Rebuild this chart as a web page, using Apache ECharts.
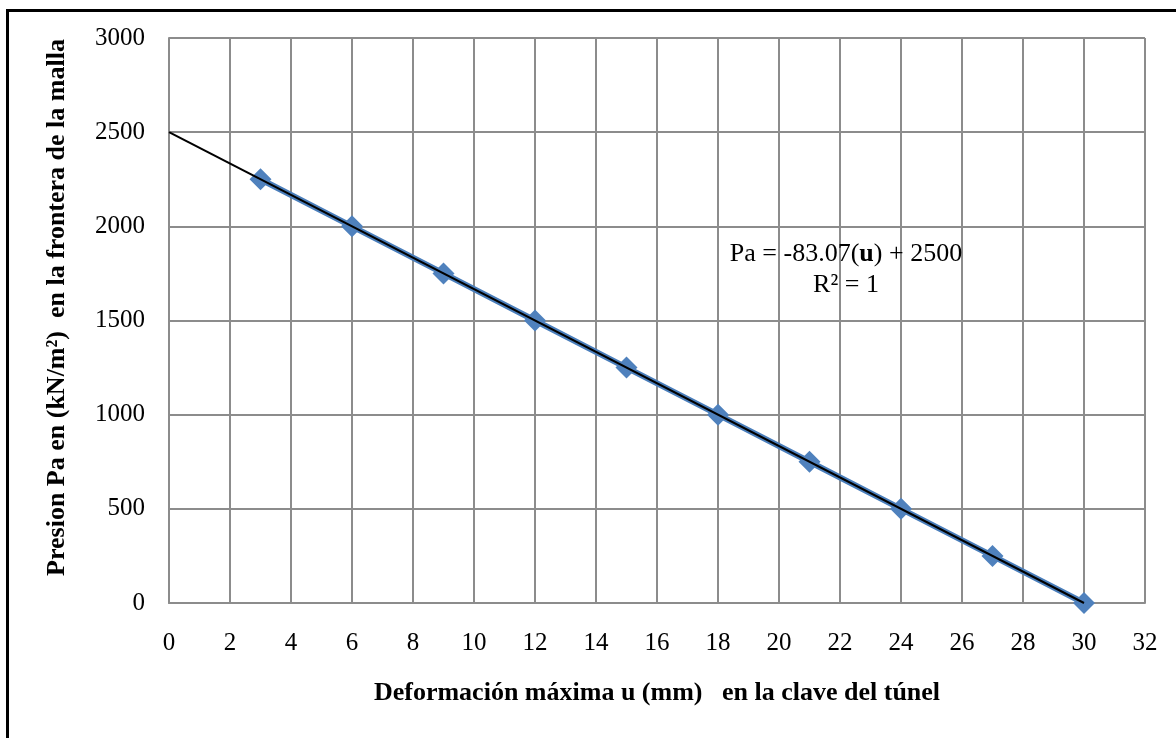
<!DOCTYPE html>
<html>
<head>
<meta charset="utf-8">
<script src="https://cdn.jsdelivr.net/npm/echarts@6/dist/echarts.min.js"></script>
<style>
html,body{margin:0;padding:0;background:#fff;}
#chart{width:1176px;height:738px;}
</style>
</head>
<body>
<div id="chart"></div>
<script>
// Data
var deformacion = [3, 6, 9, 12, 15, 18, 21, 24, 27, 30];
var presion = [2250, 2000, 1750, 1500, 1250, 1000, 750, 500, 250, 0];
var trendX = [0, 30];
var trendY = [2500, 0];
var xTitle = 'Deformación máxima u (mm)   en la clave del túnel';
var yTitle = 'Presion Pa en (kN/m²)  en la frontera de la malla';

var FONT = '"Liberation Serif", "Times New Roman", serif';
var chart = echarts.init(document.getElementById('chart'), null, {renderer: 'canvas'});

var gridColor = '#8c8c8c';
var option = {
  backgroundColor: '#ffffff',
  animation: false,
  grid: {left: 169, top: 38, right: 31, bottom: 135, containLabel: false},
  xAxis: {
    type: 'value', min: 0, max: 32, interval: 2,
    name: xTitle, nameLocation: 'middle', nameGap: 77,
    nameTextStyle: {fontFamily: FONT, fontSize: 26, fontWeight: 'bold', color: '#000'},
    axisLine: {show: true, lineStyle: {color: gridColor, width: 2}},
    axisTick: {show: false},
    axisLabel: {fontFamily: FONT, fontSize: 25, color: '#000', margin: 28,
      formatter: function (v) { return String(v); }},
    splitLine: {show: true, lineStyle: {color: gridColor, width: 2}}
  },
  yAxis: {
    type: 'value', min: 0, max: 3000, interval: 500,
    name: yTitle, nameLocation: 'middle', nameGap: 99, nameRotate: 90,
    nameTextStyle: {fontFamily: FONT, fontSize: 26, fontWeight: 'bold', color: '#000', padding: [0, 0, 0, 26]},
    axisLine: {show: true, lineStyle: {color: gridColor, width: 2}},
    axisTick: {show: false},
    axisLabel: {fontFamily: FONT, fontSize: 25, color: '#000', margin: 24,
      formatter: function (v) { return String(v); }},
    splitLine: {show: true, lineStyle: {color: gridColor, width: 2}}
  },
  series: [
    {
      type: 'line',
      data: deformacion.map(function (x, i) { return [x, presion[i]]; }),
      symbol: 'diamond', symbolSize: 22,
      itemStyle: {color: '#4F81BD'},
      lineStyle: {color: '#4A7EBB', width: 6},
      z: 2
    },
    {
      type: 'line',
      data: trendX.map(function (x, i) { return [x, trendY[i]]; }),
      symbol: 'none',
      lineStyle: {color: '#000', width: 2},
      z: 3
    }
  ],
  graphic: [
    {
      type: 'rect', silent: true,
      shape: {x: 7.5, y: 10.5, width: 1200, height: 800},
      style: {fill: 'none', stroke: '#000', lineWidth: 3},
      z: 100
    },
    {
      type: 'text', silent: true,
      x: 846, y: 270,
      style: {
        text: '{n|Pa = -83.07(}{b|u}{n|) + 2500}\n{n|R² = 1}',
        textAlign: 'center', textVerticalAlign: 'middle',
        fill: '#000',
        rich: {
          n: {fontFamily: FONT, fontSize: 26, color: '#000', lineHeight: 31},
          b: {fontFamily: FONT, fontSize: 26, fontWeight: 'bold', color: '#000', lineHeight: 31}
        }
      },
      z: 50
    }
  ]
};
chart.setOption(option);
</script>
</body>
</html>
